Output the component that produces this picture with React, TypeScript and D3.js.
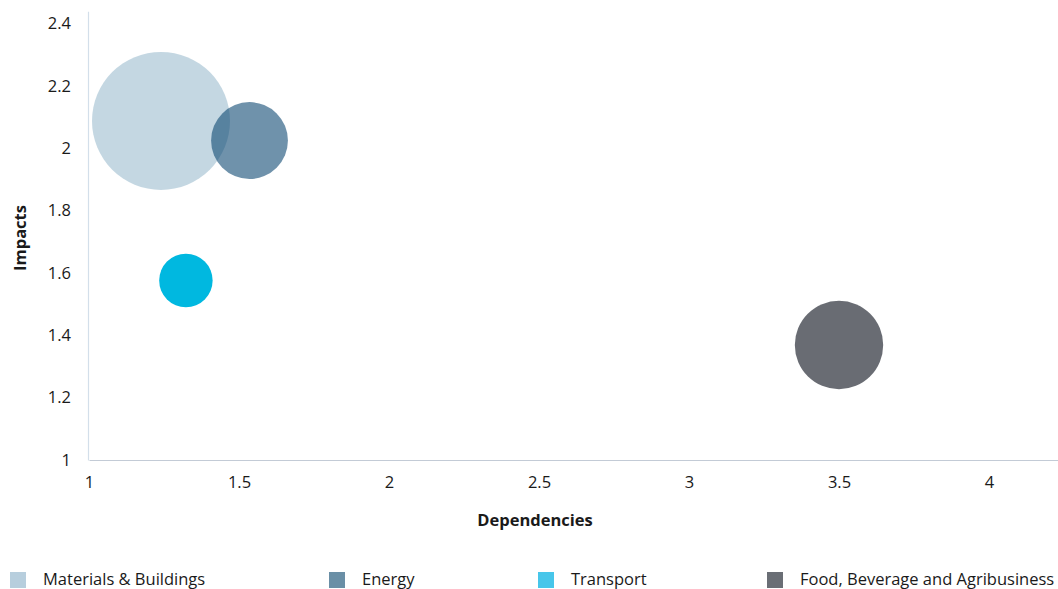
import React, { useEffect, useRef } from "react";
import * as d3 from "d3";

// sector bubbles: dependency score, impact score, relative size
const sectors = ["Materials & Buildings", "Energy", "Transport", "Food, Beverage and Agribusiness"];
const dependencies = [1.24, 1.535, 1.323, 3.5];
const impacts = [2.088, 2.025, 1.576, 1.369];
const sizes = [10, 3.1, 1.5, 4.1];

const xTicks = [1, 1.5, 2, 2.5, 3, 3.5, 4];
const yTicks = [1, 1.2, 1.4, 1.6, 1.8, 2, 2.2, 2.4];

const bubbleColors = ["#9dbccf", "#0f4a73", "#00b8e0", "#696c73"];
const bubbleOpacity = [0.6, 0.6, 1, 1];
const legendColors = ["#b7cedd", "#6a8fa6", "#47c6ea", "#6a6e75"];

const FONT = "'Open Sans', 'Noto Sans', sans-serif";

const App = () => {
  const svgRef = useRef<SVGSVGElement | null>(null);

  useEffect(() => {
    document.body.style.margin = "0";
    if (!svgRef.current) return;

    const W = 1058;
    const H = 589;
    const svg = d3.select(svgRef.current);
    svg.selectAll("*").remove();
    svg.attr("width", W).attr("height", H).style("font-family", FONT);

    const x = d3.scaleLinear().domain([1, 4.23]).range([89, 1058]);
    const y = d3.scaleLinear().domain([1, 2.44]).range([460, 11.2]);
    const r = d3.scaleSqrt().domain([0, 10]).range([0, 69]);

    // X axis
    const xAxis = svg.append("g")
      .attr("transform", `translate(0,${y(1)})`)
      .call(d3.axisBottom(x).tickValues(xTicks).tickSize(0).tickPadding(16).tickFormat(d => String(d)));
    xAxis.select(".domain").attr("stroke", "#c3cbd6").attr("stroke-width", 1.2);
    xAxis.selectAll("text").style("font-size", "16.5px").style("font-family", FONT).attr("fill", "#1a1a1a");

    // Y axis
    const yAxis = svg.append("g")
      .attr("transform", `translate(${x(1) - 1},0)`)
      .call(d3.axisLeft(y).tickValues(yTicks).tickSize(0).tickPadding(17).tickFormat(d => String(d)));
    yAxis.select(".domain").attr("stroke", "#d3dfea").attr("stroke-width", 1.2);
    yAxis.selectAll("text").style("font-size", "16.5px").style("font-family", FONT).attr("fill", "#1a1a1a");

    // axis titles
    svg.append("text")
      .attr("x", 535)
      .attr("y", 526)
      .attr("text-anchor", "middle")
      .style("font-size", "16.5px")
      .style("font-weight", "bold")
      .attr("fill", "#1a1a1a")
      .text("Dependencies");

    svg.append("text")
      .attr("transform", `translate(26,238) rotate(-90)`)
      .attr("text-anchor", "middle")
      .style("font-size", "16.5px")
      .style("font-weight", "bold")
      .attr("fill", "#1a1a1a")
      .text("Impacts");

    // bubbles
    svg.append("g")
      .selectAll("circle")
      .data(sectors)
      .enter()
      .append("circle")
      .attr("cx", (_, i) => x(dependencies[i]))
      .attr("cy", (_, i) => y(impacts[i]))
      .attr("r", (_, i) => r(sizes[i]))
      .attr("fill", (_, i) => bubbleColors[i])
      .attr("fill-opacity", (_, i) => bubbleOpacity[i]);

    // legend
    const legendX = [10, 329, 538, 767];
    const legend = svg.append("g");
    sectors.forEach((name, i) => {
      const item = legend.append("g").attr("transform", `translate(${legendX[i]},572)`);
      item.append("rect").attr("width", 16).attr("height", 16).attr("fill", legendColors[i]);
      item.append("text")
        .attr("x", 33)
        .attr("y", 13)
        .style("font-size", "16.5px")
        .attr("fill", "#1a1a1a")
        .text(name);
    });
  }, []);

  return <svg ref={svgRef} width={1058} height={589} />;
};

export default App;
